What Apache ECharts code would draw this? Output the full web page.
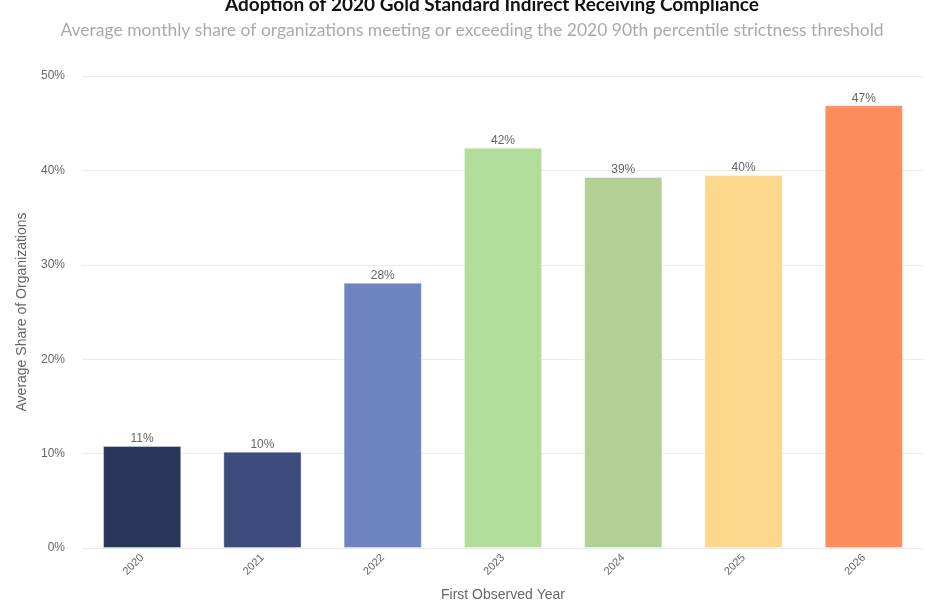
<!DOCTYPE html>
<html>
<head>
<meta charset="utf-8">
<script src="https://cdn.jsdelivr.net/npm/echarts@6/dist/echarts.min.js"></script>
<style>
  html, body { margin: 0; padding: 0; background: #fff; }
  #chart { width: 944px; height: 600px; }
</style>
</head>
<body>
<div id="chart"></div>
<script>
const years = ['2020', '2021', '2022', '2023', '2024', '2025', '2026']
const shares = [10.8, 10.2, 28.1, 42.4, 39.3, 39.5, 46.9]
const barColors = ['#283659', '#3d4b7d', '#6e84c1', '#b0de9a', '#b3cf95', '#fdd78b', '#fd8d5a']
const yTicks = [0, 10, 20, 30, 40, 50]

const chart = echarts.init(document.getElementById('chart'))

chart.setOption({
  animation: false,
  title: [{
    text: 'Adoption of 2020 Gold Standard Indirect Receiving Compliance',
    left: 220,
    top: -10,
    textStyle: { fontFamily: 'Lato', fontWeight: 'bold', fontSize: 19, color: '#111' }
  }, {
    text: 'Average monthly share of organizations meeting or exceeding the 2020 90th percentile strictness threshold',
    left: 'center',
    top: 16,
    textStyle: { fontFamily: 'Lato', fontWeight: 'normal', fontSize: 17.5, color: '#aaa' }
  }],
  grid: { left: 82, right: 20, top: 76, bottom: 52, outerBoundsMode: 'none' },
  xAxis: {
    type: 'category',
    data: years,
    name: 'First Observed Year',
    nameLocation: 'middle',
    nameGap: 40,
    nameTextStyle: { fontFamily: 'Liberation Sans', fontSize: 14, color: '#666' },
    axisLine: { show: false },
    axisTick: { show: false },
    axisLabel: { rotate: 45, fontFamily: 'Liberation Sans', fontSize: 11, color: '#666', margin: 8 }
  },
  yAxis: {
    type: 'value',
    min: yTicks[0],
    max: yTicks[yTicks.length - 1],
    interval: 10,
    name: 'Average Share of Organizations',
    nameLocation: 'middle',
    nameGap: 53,
    nameTextStyle: { fontFamily: 'Liberation Sans', fontSize: 14, color: '#666' },
    axisLabel: { formatter: '{value}%', fontFamily: 'Liberation Sans', fontSize: 12, color: '#666', margin: 17 },
    splitLine: { lineStyle: { color: '#ebebeb' } }
  },
  series: [{
    type: 'bar',
    barWidth: '65%',
    data: shares.map((v, i) => ({
      value: v,
      itemStyle: { color: barColors[i], borderColor: 'rgba(255,255,255,0.35)', borderWidth: 1 }
    })),
    label: {
      show: true,
      position: 'top',
      distance: 1,
      formatter: p => Math.round(p.value) + '%',
      fontFamily: 'Liberation Sans',
      fontSize: 12,
      color: '#666'
    }
  }]
})
</script>
</body>
</html>
